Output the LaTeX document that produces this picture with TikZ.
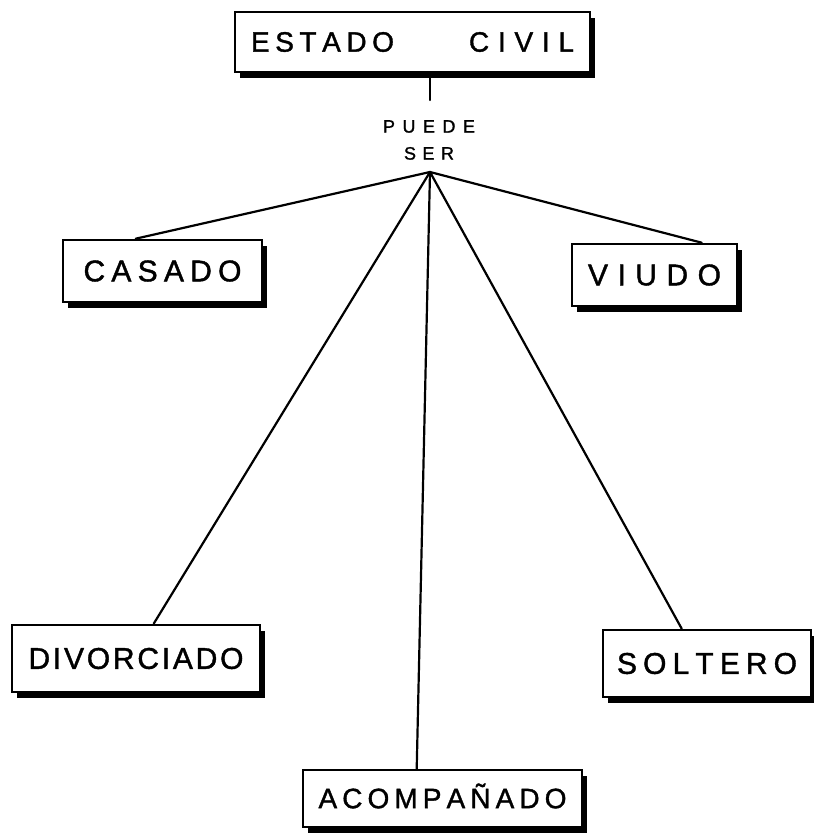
\documentclass[tikz,border=0pt]{standalone}
\usepackage{fontspec}
\setmainfont{Liberation Sans}[FakeBold=1.3]
\usetikzlibrary{shadows}
\newcommand\sprd[2]{\makebox[#1][s]{#2}}
\begin{document}
\begin{tikzpicture}[x=1pt,y=-1pt,
  lbl/.style={draw=black, line width=2.6pt, fill=white, inner sep=0pt,
    font=\fontsize{30}{36}\selectfont,
    drop shadow={shadow xshift=5pt, shadow yshift=-6pt, fill=black, opacity=1}},
  con/.style={line width=2.2pt, line cap=round}]
\useasboundingbox (0,0) rectangle (813,837);
\fill[white] (0,0) rectangle (813,837);

\node[lbl, minimum width=355pt, minimum height=60pt, font=\fontsize{28}{34}\selectfont] (estado) at (412.5,42)
  {\sprd{323pt}{\sprd{143pt}{E\hfill S\hfill T\hfill A\hfill D\hfill O}\hfill\sprd{105pt}{C\hfill I\hfill V\hfill I\hfill L}}};
\node[font=\fontsize{18}{27}\selectfont, align=center, inner sep=0pt] (puede) at (429,140)
  {\sprd{92pt}{P\hfill U\hfill E\hfill D\hfill E}\\\sprd{50pt}{S\hfill E\hfill R}};

\node[lbl, minimum width=199pt, minimum height=62pt] (casado) at (162.5,271)
  {\sprd{158pt}{C\hfill A\hfill S\hfill A\hfill D\hfill O}};
\node[lbl, minimum width=165pt, minimum height=62pt] (viudo) at (654.5,275)
  {\sprd{133pt}{V\hfill I\hfill U\hfill D\hfill O}};
\node[lbl, minimum width=248pt, minimum height=67pt] (divorciado) at (136,658.5)
  {\sprd{215pt}{D\hfill I\hfill V\hfill O\hfill R\hfill C\hfill I\hfill A\hfill D\hfill O}};
\node[lbl, minimum width=208pt, minimum height=67pt] (soltero) at (707,663.5)
  {\sprd{180pt}{S\hfill O\hfill L\hfill T\hfill E\hfill R\hfill O}};
\node[lbl, minimum width=279pt, minimum height=57pt, font=\fontsize{28}{34}\selectfont] (acomp) at (442.5,798.5)
  {\sprd{248pt}{A\hfill C\hfill O\hfill M\hfill P\hfill A\hfill \smash{Ñ}\hfill A\hfill D\hfill O}};

\coordinate (stem) at (430,100);
\coordinate (apex) at (430,172);
\draw[con] (stem |- estado.south) -- (stem);
\draw[con] (apex) -- ([xshift=74pt]casado.north west);
\draw[con] (apex) -- ([xshift=131pt]viudo.north west);
\draw[con] (apex) -- ([xshift=143pt]divorciado.north west);
\draw[con] (apex) -- ([xshift=80pt]soltero.north west);
\draw[con] (apex) -- ([xshift=115pt]acomp.north west);
\end{tikzpicture}
\end{document}
